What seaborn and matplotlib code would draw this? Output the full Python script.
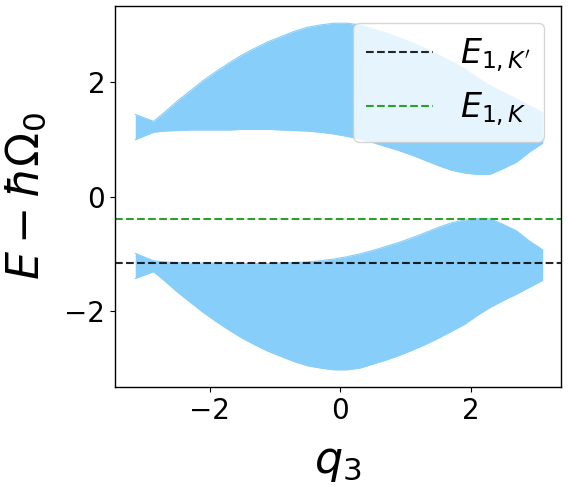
import numpy as np
import pandas as pd
import matplotlib
matplotlib.use("Agg")
import matplotlib.pyplot as plt
import seaborn as sns

# momentum grid (q3)
q3 = [-3.14, -2.86, -2.7, -2.5, -2.3, -2.1, -1.9, -1.7, -1.5, -1.3, -1.1, -0.9, -0.7, -0.5,
      -0.3, -0.1, 0.1, 0.3, 0.5, 0.7, 0.9, 1.1, 1.3, 1.5, 1.7, 1.9, 2.1, 2.3, 2.5, 2.7, 2.9, 3.10]

# upper band edges
upper_top = [1.43, 1.31, 1.46, 1.66, 1.84, 2.02, 2.18, 2.33, 2.47, 2.59, 2.70, 2.79, 2.88, 2.95,
             2.99, 3.02, 3.02, 2.99, 2.92, 2.85, 2.77, 2.68, 2.58, 2.47, 2.35, 2.23, 2.07, 1.93,
             1.81, 1.70, 1.58, 1.46]
upper_bot = [0.99, 1.12, 1.14, 1.15, 1.16, 1.16, 1.16, 1.16, 1.17, 1.17, 1.17, 1.16, 1.15, 1.14,
             1.12, 1.09, 1.05, 1.00, 0.94, 0.87, 0.80, 0.72, 0.63, 0.54, 0.46, 0.41, 0.385, 0.39,
             0.49, 0.60, 0.78, 0.93]

# lower band edges
lower_top = [-0.99, -1.12, -1.14, -1.15, -1.16, -1.16, -1.16, -1.16, -1.17, -1.17, -1.17, -1.16,
             -1.15, -1.14, -1.12, -1.09, -1.05, -1.00, -0.94, -0.87, -0.80, -0.72, -0.63, -0.54,
             -0.46, -0.41, -0.385, -0.39, -0.49, -0.60, -0.78, -0.93]
lower_bot = [-1.43, -1.31, -1.46, -1.66, -1.84, -2.02, -2.18, -2.33, -2.47, -2.59, -2.70, -2.79,
             -2.88, -2.95, -2.99, -3.02, -3.02, -2.99, -2.92, -2.85, -2.77, -2.68, -2.58, -2.47,
             -2.35, -2.23, -2.07, -1.93, -1.81, -1.70, -1.58, -1.46]

# reference levels
E1_Kp = -1.155
E1_K = -0.385
level_labels = [r"$E_{1,K'}$", r"$E_{1,K}$"]

sns.set_theme(style="ticks", rc={
    "axes.edgecolor": "black", "text.color": "black", "axes.labelcolor": "black",
    "xtick.color": "black", "ytick.color": "black", "axes.linewidth": 1.0,
})
plt.rcParams["font.family"] = ["DejaVu Sans"]

fig = plt.figure(figsize=(5.68, 4.87), dpi=100)
ax = fig.add_axes([115/568, 1-387/487, (561-115)/568, (387-6)/487])

df = pd.DataFrame({"q3": q3, "lt": lower_top, "lb": lower_bot, "ut": upper_top, "ub": upper_bot})
band_color = "#87CEFA"
ax.fill_between(df["q3"], df["lb"], df["lt"], color=band_color, linewidth=0)
ax.fill_between(df["q3"], df["ub"], df["ut"], color=band_color, linewidth=0)
for col in ["lt", "lb", "ut", "ub"]:
    sns.lineplot(data=df, x="q3", y=col, ax=ax, color=band_color, linewidth=0.8,
                 legend=False, estimator=None, sort=False)

ax.axhline(E1_Kp, color="black", linestyle="--", linewidth=1.5, alpha=0.85, label=level_labels[0])
ax.axhline(E1_K, color="#2ca02c", linestyle="--", linewidth=1.5, label=level_labels[1])

ax.set_xlim(-3.45, 3.38)
ax.set_ylim(-3.32, 3.32)
ax.set_xticks([-2, 0, 2])
ax.set_yticks([-2, 0, 2])
ax.tick_params(axis="both", labelsize=20, direction="out", length=3.5, width=0.8)
ax.set_xlabel(r"$q_3$", fontsize=32, labelpad=12)
ax.set_ylabel(r"$E-\hbar\Omega_0$", fontsize=32, labelpad=12)

ax.legend(loc="upper right", fontsize=24, framealpha=0.8)

fig.savefig("out.png", dpi=100)
